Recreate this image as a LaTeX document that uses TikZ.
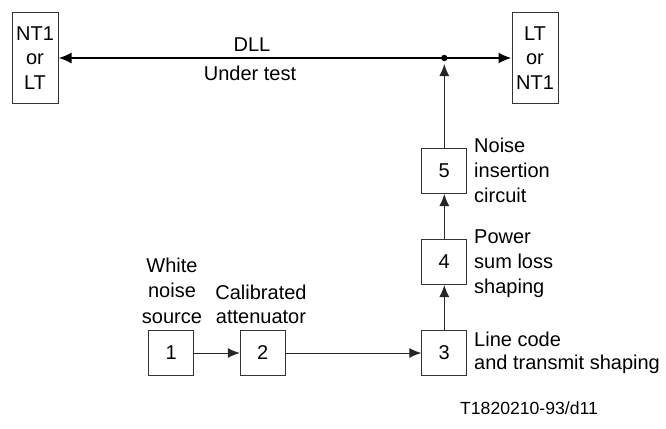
\documentclass[tikz,border=0pt]{standalone}
\usepackage{fontspec}
\setmainfont{Liberation Sans}
\usetikzlibrary{arrows.meta}
\begin{document}
\begin{tikzpicture}[x=1pt,y=-1pt,
  box/.style={draw=black!80, line width=1pt, minimum width=45pt, minimum height=45pt, inner sep=0pt, font=\fontsize{20}{24}\selectfont},
  tall/.style={draw=black!80, line width=1pt, minimum width=46pt, minimum height=90pt, inner sep=0pt, align=center, font=\fontsize{20}{24.5}\selectfont},
  lbl/.style={inner sep=0pt, font=\fontsize{20}{25}\selectfont},
  conn/.style={line width=1pt, draw=black!85, -{Latex[length=12pt,width=10pt]}},
  mainline/.style={line width=2pt, {Latex[length=13pt,width=11pt]}-{Latex[length=13pt,width=11pt]}}
]
\useasboundingbox (0,0) rectangle (666,428);
% end boxes
\node[tall] (nt) at (35,58) {NT1\\or\\LT};
\node[tall] (lt) at (535,58) {LT\\or\\NT1};
% numbered boxes
\node[box] (b1) at (171.3,353) {1};
\node[box] (b2) at (262.8,353) {2};
\node[box] (b3) at (444.3,353) {3};
\node[box] (b4) at (444.3,262) {4};
\node[box] (b5) at (444.3,171) {5};
% line under test
\draw[mainline] (nt.east) -- (lt.west);
\coordinate (j) at (444.3,58);
\coordinate (jt) at (444.3,64);
\fill (j) circle (3.2pt);
% connectors
\draw[conn] (b1.east) -- (b2.west);
\draw[conn] (b2.east) -- (b3.west);
\draw[conn] (b3.north) -- (b4.south);
\draw[conn] (b4.north) -- (b5.south);
\draw[conn] (b5.north) -- (jt);
% labels (base anchor = last line)
\node[lbl, anchor=base] (dll) at (252,52) {DLL};
\node[lbl, anchor=base] (ut) at (250,80) {Under test};
\node[lbl, align=center, anchor=base, font=\fontsize{20}{25.5}\selectfont] (l1) at (172,323) {White\\noise\\source};
\node[lbl, align=center, anchor=base, font=\fontsize{20}{24}\selectfont] (l2) at (261,323) {Calibrated\\attenuator};
\node[lbl, align=left, anchor=base west, font=\fontsize{20}{22.5}\selectfont] (l3) at (474,369) {Line code\\and transmit shaping};
\node[lbl, align=left, anchor=base west] (l4) at (474,293) {Power\\sum loss\\shaping};
\node[lbl, align=left, anchor=base west] (l5) at (474,202) {Noise\\insertion\\circuit};
\node[inner sep=0pt, anchor=base west, font=\fontsize{17.6}{20}\selectfont] (fig) at (460,414) {T1820210-93/d11};
\end{tikzpicture}
\end{document}
